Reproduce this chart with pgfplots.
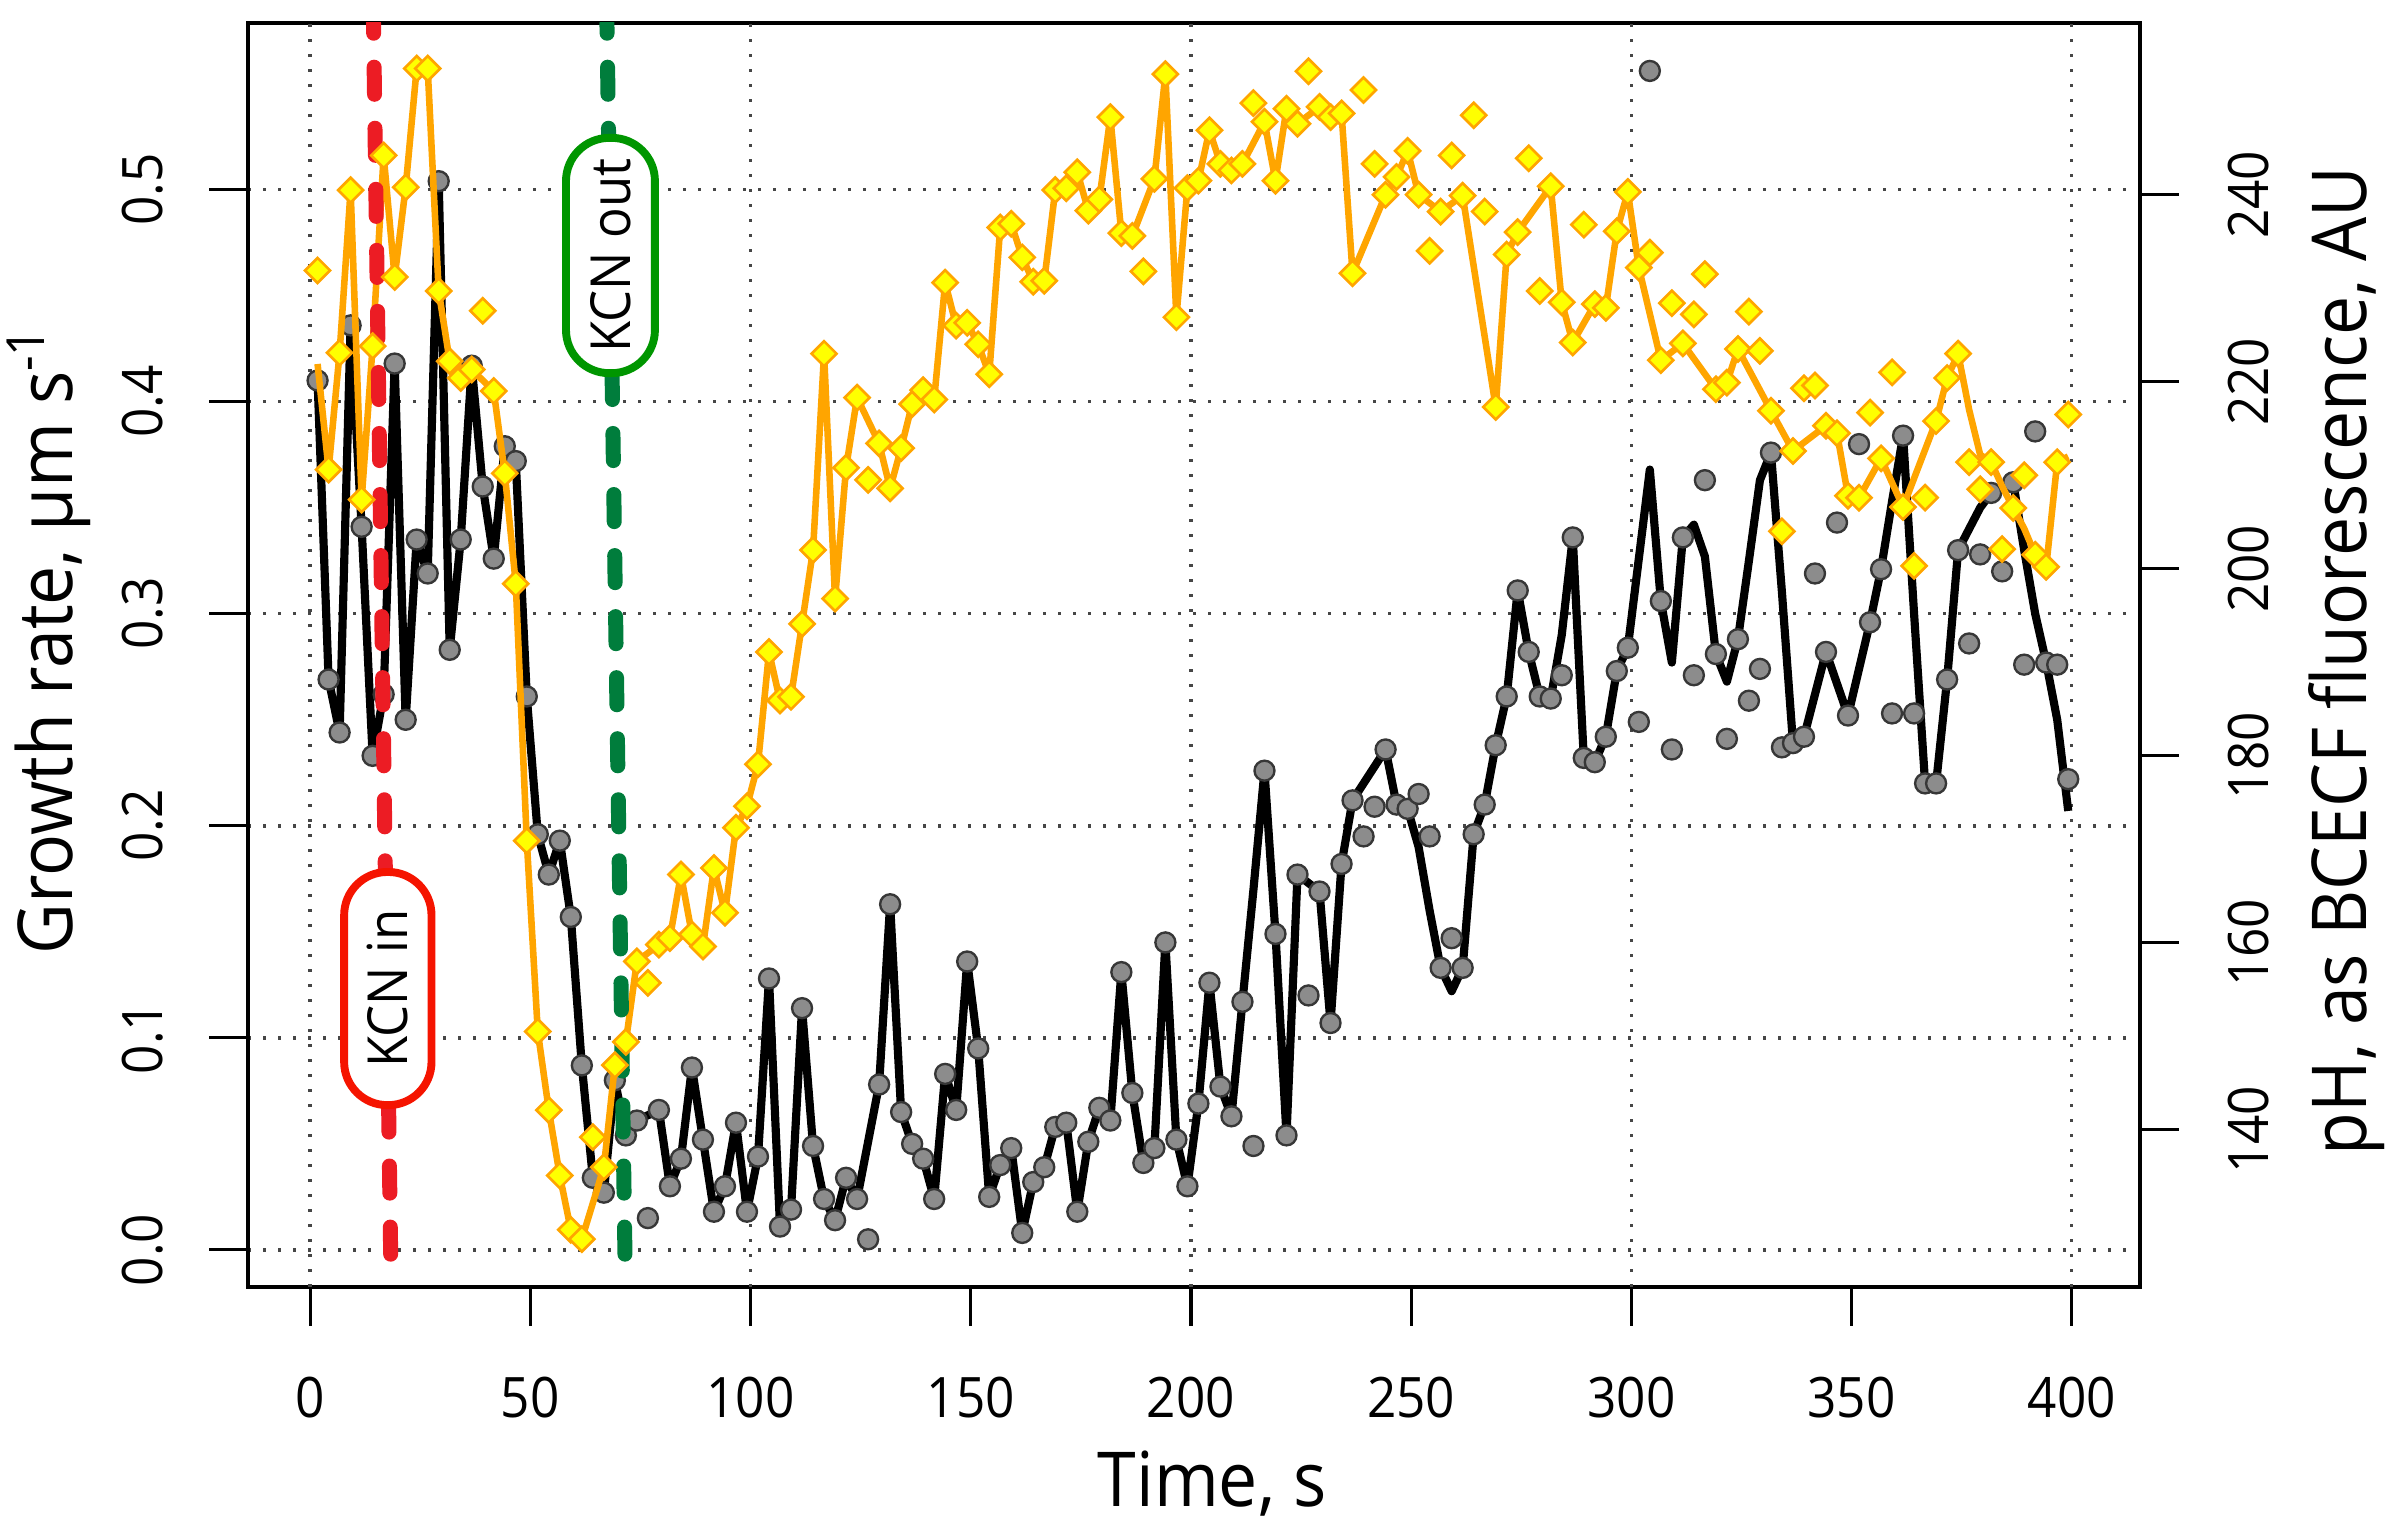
\documentclass[border=0pt]{standalone}
\usepackage{fontspec}
\setmainfont{Open Sans}[FakeStretch=0.92]
\usepackage{pgfplots}
\usepackage{pgfplotstable}
\pgfplotsset{compat=1.18}

\definecolor{ptgray}{RGB}{140,140,140}
\definecolor{ptedge}{RGB}{55,55,55}
\definecolor{orln}{RGB}{255,165,0}
\definecolor{dmfill}{RGB}{255,255,0}
\definecolor{kcnred}{RGB}{236,28,36}
\definecolor{boxred}{RGB}{245,20,0}
\definecolor{kcngreen}{RGB}{0,125,60}
\definecolor{boxgreen}{RGB}{0,150,0}
\definecolor{gridc}{RGB}{70,70,70}

\newcommand\ticksize{\fontsize{10.6}{12}\selectfont}
\newcommand\labsize{\fontsize{14.4}{17}\selectfont}
\newcommand\boxsize{\fontsize{10.5}{12}\selectfont}

% growth rate, all points (time s, um/s)
\pgfplotstableread[row sep=\\]{
x y\\
1.7 0.410\\ 4.2 0.269\\ 6.7 0.244\\ 9.2 0.436\\ 11.7 0.341\\ 14.2 0.233\\ 16.7 0.262\\ 19.2 0.418\\ 21.7 0.250\\ 24.2 0.335\\
26.7 0.319\\ 29.2 0.504\\ 31.7 0.283\\ 34.2 0.335\\ 36.7 0.417\\ 39.2 0.360\\ 41.7 0.326\\ 44.2 0.379\\ 46.7 0.372\\ 49.2 0.261\\
51.7 0.196\\ 54.2 0.177\\ 56.7 0.193\\ 59.2 0.157\\ 61.7 0.087\\ 64.2 0.034\\ 66.7 0.027\\ 69.2 0.080\\ 71.7 0.054\\ 74.2 0.061\\
76.7 0.015\\ 79.2 0.066\\ 81.7 0.030\\ 84.2 0.043\\ 86.7 0.086\\ 89.2 0.052\\ 91.7 0.018\\ 94.2 0.030\\ 96.7 0.060\\ 99.2 0.018\\
101.7 0.044\\ 104.2 0.128\\ 106.7 0.011\\ 109.2 0.019\\ 111.7 0.114\\ 114.2 0.049\\ 116.7 0.024\\ 119.2 0.014\\ 121.7 0.034\\ 124.2 0.024\\
126.7 0.005\\ 129.2 0.078\\ 131.7 0.163\\ 134.2 0.065\\ 136.7 0.050\\ 139.2 0.043\\ 141.7 0.024\\ 144.2 0.083\\ 146.7 0.066\\ 149.2 0.136\\
151.7 0.095\\ 154.2 0.025\\ 156.7 0.040\\ 159.2 0.048\\ 161.7 0.008\\ 164.2 0.032\\ 166.7 0.039\\ 169.2 0.058\\ 171.7 0.060\\ 174.2 0.018\\
176.7 0.051\\ 179.2 0.067\\ 181.7 0.061\\ 184.2 0.131\\ 186.7 0.074\\ 189.2 0.041\\ 191.7 0.048\\ 194.2 0.145\\ 196.7 0.052\\ 199.2 0.030\\
201.7 0.069\\ 204.2 0.126\\ 206.7 0.077\\ 209.2 0.063\\ 211.7 0.117\\ 214.2 0.049\\ 216.7 0.226\\ 219.2 0.149\\ 221.7 0.054\\ 224.2 0.177\\
226.7 0.120\\ 229.2 0.169\\ 231.7 0.107\\ 234.2 0.182\\ 236.7 0.212\\ 239.2 0.195\\ 241.7 0.209\\ 244.2 0.236\\ 246.7 0.210\\ 249.2 0.208\\
251.7 0.215\\ 254.2 0.195\\ 256.7 0.133\\ 259.2 0.147\\ 261.7 0.133\\ 264.2 0.196\\ 266.7 0.210\\ 269.2 0.238\\ 271.7 0.261\\ 274.2 0.311\\
276.7 0.282\\ 279.2 0.261\\ 281.7 0.260\\ 284.2 0.271\\ 286.7 0.336\\ 289.2 0.232\\ 291.7 0.230\\ 294.2 0.242\\ 296.7 0.273\\ 299.2 0.284\\
301.7 0.249\\ 304.2 0.556\\ 306.7 0.306\\ 309.2 0.236\\ 311.7 0.336\\ 314.2 0.271\\ 316.7 0.363\\ 319.2 0.281\\ 321.7 0.241\\ 324.2 0.288\\
326.7 0.259\\ 329.2 0.274\\ 331.7 0.376\\ 334.2 0.237\\ 336.7 0.239\\ 339.2 0.242\\ 341.7 0.319\\ 344.2 0.282\\ 346.7 0.343\\ 349.2 0.252\\
351.7 0.380\\ 354.2 0.296\\ 356.7 0.321\\ 359.2 0.253\\ 361.7 0.384\\ 364.2 0.253\\ 366.7 0.220\\ 369.2 0.220\\ 371.7 0.269\\ 374.2 0.330\\
376.7 0.286\\ 379.2 0.328\\ 381.7 0.357\\ 384.2 0.320\\ 386.7 0.362\\ 389.2 0.276\\ 391.7 0.386\\ 394.2 0.277\\ 396.7 0.276\\ 399.2 0.222\\
}\blackpts

% growth rate, connecting line
\pgfplotstableread[row sep=\\]{
x y\\
1.7 0.410\\ 4.2 0.269\\ 6.7 0.244\\ 9.2 0.436\\ 11.7 0.341\\ 14.2 0.233\\ 16.7 0.262\\ 19.2 0.418\\ 21.7 0.250\\ 24.2 0.335\\
26.7 0.319\\ 29.2 0.504\\ 31.7 0.283\\ 34.2 0.335\\ 36.7 0.417\\ 39.2 0.360\\ 41.7 0.326\\ 44.2 0.379\\ 46.7 0.372\\ 49.2 0.261\\
51.7 0.196\\ 54.2 0.177\\ 56.7 0.193\\ 59.2 0.157\\ 61.7 0.087\\ 64.2 0.034\\ 66.7 0.027\\ 69.2 0.080\\ 71.7 0.054\\ 74.2 0.061\\
79.2 0.066\\ 81.7 0.030\\ 84.2 0.043\\ 86.7 0.086\\ 89.2 0.052\\ 91.7 0.018\\ 94.2 0.030\\ 96.7 0.060\\ 99.2 0.018\\
101.7 0.044\\ 104.2 0.128\\ 106.7 0.011\\ 109.2 0.019\\ 111.7 0.114\\ 114.2 0.049\\ 116.7 0.024\\ 119.2 0.014\\ 121.7 0.034\\ 124.2 0.024\\
129.2 0.078\\ 131.7 0.163\\ 134.2 0.065\\ 136.7 0.050\\ 139.2 0.043\\ 141.7 0.024\\ 144.2 0.083\\ 146.7 0.066\\ 149.2 0.136\\
151.7 0.095\\ 154.2 0.025\\ 156.7 0.040\\ 159.2 0.048\\ 161.7 0.008\\ 164.2 0.032\\ 166.7 0.039\\ 169.2 0.058\\ 171.7 0.060\\ 174.2 0.018\\
176.7 0.051\\ 179.2 0.067\\ 181.7 0.061\\ 184.2 0.131\\ 186.7 0.074\\ 189.2 0.041\\ 191.7 0.048\\ 194.2 0.145\\ 196.7 0.052\\ 199.2 0.030\\
201.7 0.069\\ 204.2 0.126\\ 206.7 0.077\\ 209.2 0.063\\ 211.7 0.117\\ 214.2 0.170\\ 216.7 0.226\\ 219.2 0.149\\ 221.7 0.054\\ 224.2 0.177\\
226.7 0.173\\ 229.2 0.169\\ 231.7 0.107\\ 234.2 0.182\\ 236.7 0.212\\ 244.2 0.236\\ 246.7 0.210\\ 249.2 0.208\\
251.7 0.190\\ 254.2 0.160\\ 256.7 0.133\\ 259.2 0.122\\ 261.7 0.133\\ 264.2 0.196\\ 266.7 0.210\\ 269.2 0.238\\ 271.7 0.261\\ 274.2 0.311\\
276.7 0.282\\ 279.2 0.261\\ 281.7 0.260\\ 284.2 0.290\\ 286.7 0.336\\ 289.2 0.232\\ 291.7 0.230\\ 294.2 0.242\\ 296.7 0.273\\ 299.2 0.284\\
304.2 0.368\\ 306.7 0.306\\ 309.2 0.277\\ 311.7 0.336\\ 314.2 0.342\\ 316.7 0.327\\ 319.2 0.281\\ 321.7 0.268\\ 324.2 0.288\\
326.7 0.325\\ 329.2 0.363\\ 331.7 0.376\\ 334.2 0.310\\ 336.7 0.239\\ 339.2 0.242\\ 344.2 0.282\\ 349.2 0.252\\
354.2 0.296\\ 356.7 0.321\\ 359.2 0.353\\ 361.7 0.384\\ 364.2 0.300\\ 366.7 0.220\\ 369.2 0.220\\ 371.7 0.269\\ 374.2 0.330\\
376.7 0.340\\ 379.2 0.350\\ 381.7 0.357\\ 384.2 0.360\\ 386.7 0.362\\ 389.2 0.330\\ 391.7 0.300\\ 394.2 0.277\\ 396.7 0.250\\ 399.2 0.207\\
}\blackline

% BCECF fluorescence, all points (AU)
\pgfplotstableread[row sep=\\]{
x y\\
1.7 231.9\\ 4.2 210.6\\ 6.7 223.1\\ 9.2 240.5\\ 11.7 207.4\\ 14.2 223.8\\ 16.7 244.2\\ 19.2 231.2\\ 21.7 240.8\\ 24.2 253.5\\
26.7 253.5\\ 29.2 229.7\\ 31.7 222.2\\ 34.2 220.4\\ 36.7 221.3\\ 39.2 227.6\\ 41.7 219.0\\ 44.2 210.2\\ 46.7 198.4\\ 49.2 170.9\\
51.7 150.5\\ 54.2 142.1\\ 56.7 135.1\\ 59.2 129.3\\ 61.7 128.3\\ 64.2 139.2\\ 66.7 136.0\\ 69.2 146.9\\ 71.7 149.4\\ 74.2 158.0\\
76.7 155.7\\ 79.2 159.8\\ 81.7 160.5\\ 84.2 167.3\\ 86.7 160.9\\ 89.2 159.6\\ 91.7 168.0\\ 94.2 163.2\\ 96.7 172.3\\ 99.2 174.6\\
101.7 179.1\\ 104.2 191.1\\ 106.7 185.9\\ 109.2 186.3\\ 111.7 194.1\\ 114.2 202.0\\ 116.7 223.0\\ 119.2 196.8\\ 121.7 210.8\\ 124.2 218.3\\
126.7 209.5\\ 129.2 213.4\\ 131.7 208.6\\ 134.2 212.9\\ 136.7 217.6\\ 139.2 219.1\\ 141.7 218.1\\ 144.2 230.6\\ 146.7 226.0\\ 149.2 226.3\\
151.7 224.0\\ 154.2 220.8\\ 156.7 236.5\\ 159.2 236.9\\ 161.7 233.3\\ 164.2 230.7\\ 166.7 230.8\\ 169.2 240.5\\ 171.7 240.7\\ 174.2 242.4\\
176.7 238.3\\ 179.2 239.5\\ 181.7 248.3\\ 184.2 235.9\\ 186.7 235.6\\ 189.2 231.8\\ 191.7 241.7\\ 194.2 252.9\\ 196.7 226.9\\ 199.2 240.7\\
201.7 241.5\\ 204.2 246.9\\ 206.7 243.3\\ 209.2 242.6\\ 211.7 243.3\\ 214.2 249.8\\ 216.7 247.8\\ 219.2 241.5\\ 221.7 249.2\\ 224.2 247.6\\
226.7 253.2\\ 229.2 249.4\\ 231.7 248.3\\ 234.2 248.7\\ 236.7 231.6\\ 239.2 251.2\\ 241.7 243.3\\ 244.2 240.0\\ 246.7 241.9\\ 249.2 244.7\\
251.7 240.0\\ 254.2 234.0\\ 256.7 238.2\\ 259.2 244.2\\ 261.7 239.9\\ 264.2 248.5\\ 266.7 238.2\\ 269.2 217.3\\ 271.7 233.6\\ 274.2 236.0\\
276.7 243.9\\ 279.2 229.7\\ 281.7 240.9\\ 284.2 228.5\\ 286.7 224.2\\ 289.2 236.8\\ 291.7 228.3\\ 294.2 227.9\\ 296.7 236.1\\ 299.2 240.3\\
301.7 232.2\\ 304.2 233.8\\ 306.7 222.3\\ 309.2 228.4\\ 311.7 224.1\\ 314.2 227.2\\ 316.7 231.5\\ 319.2 219.2\\ 321.7 219.9\\ 324.2 223.5\\
326.7 227.5\\ 329.2 223.3\\ 331.7 216.9\\ 334.2 204.0\\ 336.7 212.6\\ 339.2 219.3\\ 341.7 219.6\\ 344.2 215.3\\ 346.7 214.5\\ 349.2 207.8\\
351.7 207.6\\ 354.2 216.7\\ 356.7 211.8\\ 359.2 221.0\\ 361.7 206.6\\ 364.2 200.3\\ 366.7 207.6\\ 369.2 215.8\\ 371.7 220.4\\ 374.2 223.0\\
376.7 211.4\\ 379.2 208.5\\ 381.7 211.4\\ 384.2 202.1\\ 386.7 206.5\\ 389.2 210.0\\ 391.7 201.5\\ 394.2 200.2\\ 396.7 211.4\\ 399.2 216.5\\
}\orangepts

% BCECF fluorescence, connecting line
\pgfplotstableread[row sep=\\]{
x y\\
1.7 221.9\\ 4.2 210.6\\ 6.7 223.1\\ 9.2 240.5\\ 11.7 207.4\\ 14.2 223.8\\ 16.7 244.2\\ 19.2 231.2\\ 21.7 240.8\\ 24.2 253.5\\
26.7 253.5\\ 29.2 229.7\\ 31.7 222.2\\ 34.2 220.4\\ 36.7 221.3\\ 41.7 219.0\\ 44.2 210.2\\ 46.7 198.4\\ 49.2 170.9\\
51.7 150.5\\ 54.2 142.1\\ 56.7 135.1\\ 59.2 129.3\\ 61.7 128.3\\ 66.7 136.0\\ 69.2 146.9\\ 71.7 149.4\\ 74.2 158.0\\
79.2 159.8\\ 81.7 160.5\\ 84.2 167.3\\ 86.7 160.9\\ 89.2 159.6\\ 91.7 168.0\\ 94.2 163.2\\ 96.7 172.3\\ 99.2 174.6\\
101.7 179.1\\ 104.2 191.1\\ 106.7 185.9\\ 109.2 186.3\\ 111.7 194.1\\ 114.2 202.0\\ 116.7 223.0\\ 119.2 196.8\\ 121.7 210.8\\ 124.2 218.3\\
129.2 213.4\\ 131.7 208.6\\ 134.2 212.9\\ 136.7 217.6\\ 139.2 219.1\\ 141.7 218.1\\ 144.2 230.6\\ 146.7 226.0\\ 149.2 226.3\\
151.7 224.0\\ 154.2 220.8\\ 156.7 236.5\\ 159.2 236.9\\ 161.7 233.3\\ 164.2 230.7\\ 166.7 230.8\\ 169.2 240.5\\ 171.7 240.7\\ 174.2 242.4\\
176.7 238.3\\ 179.2 239.5\\ 181.7 248.3\\ 184.2 235.9\\ 186.7 235.6\\ 191.7 241.7\\ 194.2 252.9\\ 196.7 226.9\\ 199.2 240.7\\
201.7 241.5\\ 204.2 246.9\\ 206.7 243.3\\ 209.2 242.6\\ 211.7 243.3\\ 216.7 247.8\\ 219.2 241.5\\ 221.7 249.2\\ 224.2 247.6\\
229.2 249.4\\ 231.7 248.3\\ 234.2 248.7\\ 236.7 231.6\\ 244.2 240.0\\ 246.7 241.9\\ 249.2 244.7\\
251.7 240.0\\ 256.7 238.2\\ 261.7 239.9\\ 269.2 217.3\\ 271.7 233.6\\ 274.2 236.0\\
281.7 240.9\\ 284.2 228.5\\ 286.7 224.2\\ 291.7 228.3\\ 294.2 227.9\\ 296.7 236.1\\ 299.2 240.3\\
301.7 232.2\\ 306.7 222.3\\ 311.7 224.1\\ 319.2 219.2\\ 321.7 219.9\\ 324.2 223.5\\
331.7 216.9\\ 336.7 212.6\\ 344.2 215.3\\ 346.7 214.5\\ 349.2 207.8\\
351.7 207.6\\ 356.7 211.8\\ 361.7 206.6\\ 369.2 215.8\\ 371.7 220.4\\ 374.2 223.0\\
376.7 217.0\\ 379.2 212.2\\ 381.7 211.4\\ 384.2 208.8\\ 386.7 206.5\\ 389.2 204.3\\ 391.7 201.5\\ 394.2 200.2\\ 396.7 211.4\\ 399.2 212.0\\
}\orangeline

\begin{document}
\begin{tikzpicture}
\path[use as bounding box] (0,0) rectangle (454.86pt,291.46pt);
\begin{axis}[
  at={(47.12pt,46.93pt)}, anchor=south west,
  scale only axis, width=359.48pt, height=240.16pt,
  xmin=-14.1, xmax=415.5, ymin=-0.0175, ymax=0.5786,
  axis line style={line width=0.8pt},
  tick style={line width=0.6pt, black},
  tick align=outside, major tick length=7.4pt,
  xtick pos=bottom, ytick pos=left,
  xtick={0,50,...,400},
  ytick={0,0.1,0.2,0.3,0.4,0.5},
  yticklabels={0.0,0.1,0.2,0.3,0.4,0.5},
  extra x ticks={0,100,200,300,400}, extra x tick labels={},
  extra x tick style={grid=major, major tick length=0pt},
  ymajorgrids,
  major grid style={gridc, line width=0.65pt, dash pattern=on 0.65pt off 2.2pt},
  tick label style={font=\ticksize},
  /pgf/number format/assume math mode=true,
  xticklabel style={anchor=center, inner sep=0pt, yshift=-13.69pt},
  yticklabel style={anchor=center, inner sep=0pt, xshift=-12.65pt, rotate=90},
  xlabel={Time, s},
  xlabel style={at={(axis description cs:0.5096,-0.174)}, anchor=base, font=\labsize, inner sep=0pt},
  ylabel={Growth rate, μm s\textsuperscript{-1}},
  ylabel style={at={(axis description cs:-0.093,0.5119)}, anchor=base, font=\labsize, inner sep=0pt},
]
\addplot[black, line width=1.55pt, line join=round, no marks] table {\blackline};
\addplot[only marks, mark=*, mark size=1.9pt, mark options={fill=ptgray, draw=ptedge, line width=0.45pt}] table {\blackpts};
\end{axis}
\begin{axis}[
  at={(47.12pt,46.93pt)}, anchor=south west,
  scale only axis, width=359.48pt, height=240.16pt,
  xmin=-14.1, xmax=415.5, ymin=123.18, ymax=258.37,
  hide x axis,
  axis line style={line width=0.8pt},
  tick style={line width=0.6pt, black},
  tick align=outside, major tick length=7.4pt,
  ytick pos=right, yticklabel pos=right,
  ytick={140,160,180,200,220,240},
  tick label style={font=\ticksize},
  /pgf/number format/assume math mode=true,
  yticklabel style={anchor=center, inner sep=0pt, xshift=13.31pt, rotate=90},
  ylabel={pH, as BCECF fluorescence, AU},
  ylabel style={at={(axis description cs:1.1199,0.4954)}, anchor=base, font=\labsize, inner sep=0pt},
]
\addplot[orln, line width=1.25pt, line join=round, no marks] table {\orangeline};
\addplot[only marks, mark=square*, mark size=1.68pt, mark options={rotate=45, fill=dmfill, draw=orln, line width=0.5pt}] table {\orangepts};
\draw[kcnred, line width=2.85pt, line cap=round, dash pattern=on 5.15pt off 6.45pt, dash phase=3.2pt] (axis cs:14.4,258.37) -- (axis cs:18.4,123.18);
\draw[kcngreen, line width=2.85pt, line cap=round, dash pattern=on 5.15pt off 6.45pt, dash phase=3.2pt] (axis cs:67.4,258.37) -- (axis cs:71.6,123.18);
\node[draw=boxred, line width=1.5pt, fill=white, rounded corners=8.2pt, rotate=90, minimum width=44.3pt, minimum height=16.6pt, inner sep=0pt, font=\boxsize] at (axis cs:17.65,155.1) {KCN in};
\node[draw=boxgreen, line width=1.5pt, fill=white, rounded corners=8.2pt, rotate=90, minimum width=44.7pt, minimum height=16.9pt, inner sep=0pt, font=\boxsize] at (axis cs:68.2,233.5) {KCN out};
\end{axis}
\end{tikzpicture}
\end{document}
